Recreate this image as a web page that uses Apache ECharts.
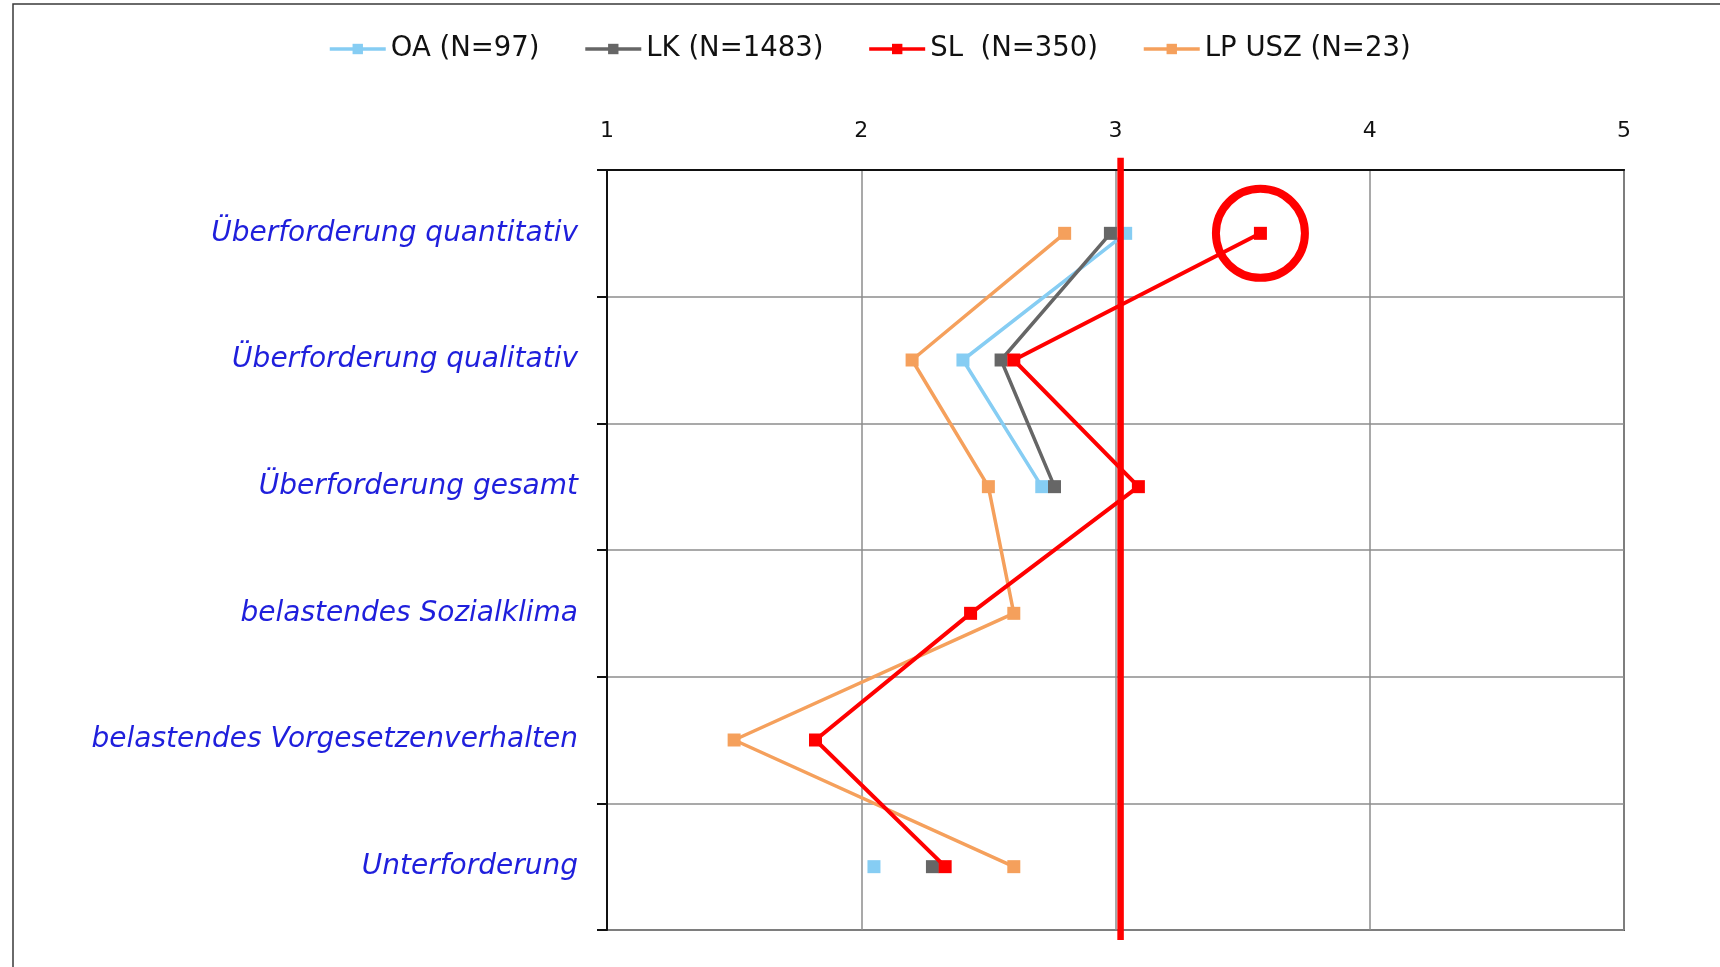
<!DOCTYPE html>
<html>
<head>
<meta charset="utf-8">
<script src="https://cdn.jsdelivr.net/npm/echarts@6/dist/echarts.min.js"></script>
<style>
  html, body { margin: 0; padding: 0; background: #fff; }
  #chart { width: 1720px; height: 967px; }
</style>
</head>
<body>
<div id="chart"></div>
<script>
// Scale categories (top to bottom)
const categories = [
  'Überforderung quantitativ',
  'Überforderung qualitativ',
  'Überforderung gesamt',
  'belastendes Sozialklima',
  'belastendes Vorgesetzenverhalten',
  'Unterforderung'
];

// Group names shown in the legend
const seriesNames = ['OA (N=97)', 'LK (N=1483)', 'SL  (N=350)', 'LP USZ (N=23)'];

// Mean scores per group (1 = low, 5 = high); '-' = not surveyed
const oaValues = [3.04, 2.40, 2.71, '-', '-', 2.05];
const lkValues = [2.98, 2.55, 2.76, '-', '-', 2.28];
const slValues = [3.57, 2.60, 3.09, 2.43, 1.82, 2.33];
const lpValues = [2.80, 2.20, 2.50, 2.60, 1.50, 2.60];

// Scale range and ticks
const scaleMin = 1;
const scaleMax = 5;
const scaleStep = 1;

// Reference line near the scale midpoint
const referenceValue = 3.02;
// Vertical extent of the reference line, in fractions of the plot height
const referenceSpan = [-0.013, 1.016];

const colors = {
  oa: '#86cdf3',
  lk: '#666666',
  sl: '#ff0000',
  lp: '#f5a05c'
};

const FONT = '"DejaVu Sans", "Liberation Sans", Arial, sans-serif';

function groupSeries(name, values, color, z, width) {
  return {
    name: name,
    type: 'line',
    data: values,
    symbol: 'rect',
    symbolSize: 13,
    connectNulls: false,
    z: z,
    lineStyle: { color: color, width: width },
    itemStyle: { color: color },
    emphasis: { disabled: true }
  };
}

const chart = echarts.init(document.getElementById('chart'), null, { renderer: 'canvas' });

const slSeries = groupSeries(seriesNames[2], slValues, colors.sl, 6, 4);
slSeries.markPoint = {
  symbol: 'circle',
  symbolSize: 89,
  silent: true,
  label: { show: false },
  itemStyle: { color: 'rgba(0,0,0,0)', borderColor: colors.sl, borderWidth: 8 },
  data: [{ coord: [slValues[0], categories[0]] }]
};

const option = {
  backgroundColor: '#ffffff',
  animation: false,
  graphic: [{
    type: 'rect',
    silent: true,
    shape: { x: 13, y: 4, width: 2000, height: 2000 },
    style: { fill: 'none', stroke: '#3a3a3a', lineWidth: 1.5 }
  }],
  legend: {
    data: seriesNames,
    left: 323,
    top: 30,
    itemWidth: 56,
    itemHeight: 13,
    itemGap: 44,
    lineStyle: { width: 3.5 },
    textStyle: { fontFamily: FONT, fontSize: 27.5, color: '#111' }
  },
  grid: {
    left: 607,
    right: 96,
    top: 170,
    bottom: 37,
    show: true,
    borderColor: '#555555',
    borderWidth: 2,
    backgroundColor: 'transparent'
  },
  xAxis: {
    type: 'value',
    position: 'top',
    min: scaleMin,
    max: scaleMax,
    interval: scaleStep,
    axisLine: { show: true, onZero: false, lineStyle: { color: '#111', width: 2 } },
    axisTick: { show: false },
    axisLabel: { fontFamily: FONT, fontSize: 22, color: '#111', margin: 28 },
    splitLine: { show: true, lineStyle: { color: '#8c8c8c', width: 1.5 } }
  },
  yAxis: [{
    type: 'category',
    data: categories,
    inverse: true,
    boundaryGap: true,
    axisLine: { show: true, lineStyle: { color: '#111', width: 2 } },
    axisTick: { show: true, inside: false, length: 10, interval: 0, lineStyle: { color: '#111', width: 2 } },
    axisLabel: {
      fontFamily: FONT,
      fontSize: 28,
      fontStyle: 'italic',
      color: '#1f1fdc',
      margin: 29,
      interval: 0
    },
    splitLine: { show: true, interval: 0, lineStyle: { color: '#8c8c8c', width: 1.5 } }
  }, {
    type: 'value',
    min: 0,
    max: 1,
    show: false,
    splitLine: { show: false }
  }],
  series: [
    groupSeries(seriesNames[0], oaValues, colors.oa, 3, 3.5),
    groupSeries(seriesNames[1], lkValues, colors.lk, 4, 3.5),
    slSeries,
    groupSeries(seriesNames[3], lpValues, colors.lp, 5, 3.5),
    {
      name: 'Referenz',
      type: 'line',
      yAxisIndex: 1,
      data: [[referenceValue, referenceSpan[0]], [referenceValue, referenceSpan[1]]],
      symbol: 'none',
      clip: false,
      silent: true,
      z: 7,
      lineStyle: { color: '#ff0000', width: 6.5 },
      emphasis: { disabled: true }
    }
  ]
};

chart.setOption(option);
</script>
</body>
</html>
